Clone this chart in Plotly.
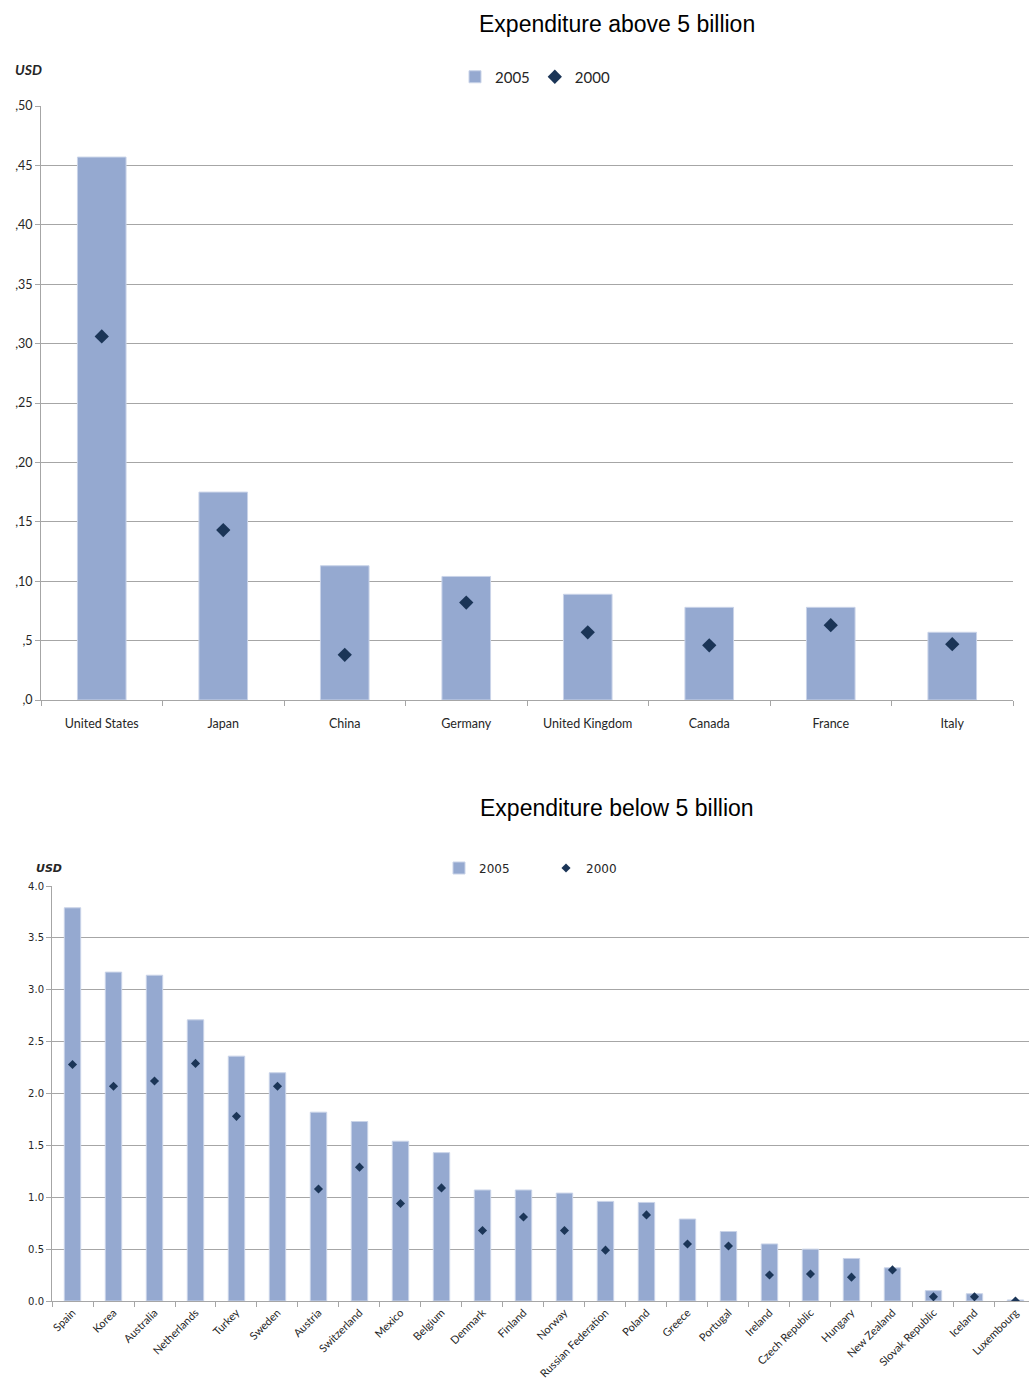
import plotly.graph_objects as go

# ---- Data: countries with expenditure above 5 billion USD ----
big_countries = ["United States", "Japan", "China", "Germany",
                 "United Kingdom", "Canada", "France", "Italy"]
big_2005 = [45.7, 17.5, 11.3, 10.4, 8.9, 7.8, 7.8, 5.7]
big_2000 = [30.6, 14.3, 3.8, 8.2, 5.7, 4.6, 6.3, 4.7]
big_ticks = [0, 5, 10, 15, 20, 25, 30, 35, 40, 45, 50]
big_ticktext = [",0", ",5", ",10", ",15", ",20", ",25", ",30", ",35", ",40", ",45", ",50"]

# ---- Data: countries with expenditure below 5 billion USD ----
small_countries = ["Spain", "Korea", "Australia", "Netherlands", "Turkey", "Sweden",
                   "Austria", "Switzerland", "Mexico", "Belgium", "Denmark", "Finland",
                   "Norway", "Russian Federation", "Poland", "Greece", "Portugal",
                   "Ireland", "Czech Republic", "Hungary", "New Zealand",
                   "Slovak Republic", "Iceland", "Luxembourg"]
small_2005 = [3.79, 3.17, 3.14, 2.71, 2.36, 2.20, 1.82, 1.73, 1.54, 1.43, 1.07, 1.07,
              1.04, 0.96, 0.95, 0.79, 0.67, 0.55, 0.50, 0.41, 0.32, 0.10, 0.07, 0.01]
small_2000 = [2.28, 2.07, 2.12, 2.29, 1.78, 2.07, 1.08, 1.29, 0.94, 1.09, 0.68, 0.81,
              0.68, 0.49, 0.83, 0.55, 0.53, 0.25, 0.26, 0.23, 0.30, 0.04, 0.04, 0.0]
small_ticks = [0, 0.5, 1.0, 1.5, 2.0, 2.5, 3.0, 3.5, 4.0]

BAR = "#95A9D0"
BAR_EDGE = "#C9D3E8"
DIAMOND = "#1B3557"
GRID = "#A6A6A6"
TXT = "#262626"

W, H = 1029, 1383


def px_x(p):
    return p / W


def px_y(p):
    return 1 - p / H


fig = go.Figure()

# Upper chart
fig.add_trace(go.Bar(x=big_countries, y=big_2005, name="2005", width=0.4,
                     marker=dict(color=BAR, line=dict(color=BAR_EDGE, width=1)),
                     xaxis="x", yaxis="y", legend="legend"))
fig.add_trace(go.Scatter(x=big_countries, y=big_2000, name="2000", mode="markers",
                         marker=dict(symbol="diamond", size=11, color=DIAMOND),
                         xaxis="x", yaxis="y", legend="legend"))

# Lower chart
fig.add_trace(go.Bar(x=small_countries, y=small_2005, name="2005", width=0.4,
                     marker=dict(color=BAR, line=dict(color=BAR_EDGE, width=1)),
                     xaxis="x2", yaxis="y2", legend="legend2"))
fig.add_trace(go.Scatter(x=small_countries, y=small_2000, name="2000", mode="markers",
                         marker=dict(symbol="diamond", size=7, color=DIAMOND),
                         xaxis="x2", yaxis="y2", legend="legend2"))

axis_common = dict(showline=True, linecolor=GRID, linewidth=1, ticks="outside",
                   tickcolor=GRID, ticklen=5, automargin=False)

fig.update_layout(
    width=W, height=H,
    margin=dict(l=0, r=0, t=0, b=0),
    paper_bgcolor="white", plot_bgcolor="white",
    barmode="overlay",
    xaxis=dict(domain=[px_x(41), px_x(1013)], range=[-0.5, 7.5], anchor="y",
               tickson="boundaries", showgrid=False, ticklabelstandoff=12,
               tickfont=dict(family="Lato", size=12.5, color=TXT), **axis_common),
    yaxis=dict(domain=[px_y(700), px_y(106)], range=[0, 50], anchor="x",
               tickvals=big_ticks, ticktext=big_ticktext, showgrid=True,
               gridcolor=GRID, gridwidth=1, zeroline=False,
               tickfont=dict(family="Lato", size=12.5, color=TXT), **axis_common),
    xaxis2=dict(domain=[px_x(52), 1.0], range=[-0.5, 23.33], anchor="y2",
                tickson="boundaries", showgrid=False, tickangle=-45,
                tickfont=dict(family="Lato", size=11, color=TXT), **axis_common),
    yaxis2=dict(domain=[px_y(1301), px_y(886)], range=[0, 4], anchor="x2",
                tickvals=small_ticks, tickformat=".1f", showgrid=True,
                gridcolor=GRID, gridwidth=1, zeroline=False,
                tickfont=dict(family="DejaVu Sans", size=10, color=TXT), **axis_common),
    legend=dict(orientation="h", x=px_x(455), y=px_y(77), yanchor="middle",
                xanchor="left", itemwidth=30, tracegroupgap=0,
                font=dict(family="Lato", size=15, color=TXT),
                bgcolor="rgba(0,0,0,0)"),
    legend2=dict(orientation="h", x=px_x(439), y=px_y(868), yanchor="middle",
                 xanchor="left", itemwidth=30, entrywidth=62, entrywidthmode="pixels",
                 font=dict(family="DejaVu Sans", size=12, color=TXT),
                 bgcolor="rgba(0,0,0,0)"),
    annotations=[
        dict(text="Expenditure above 5 billion", x=px_x(617), y=px_y(24),
             xref="paper", yref="paper", showarrow=False, xanchor="center",
             yanchor="middle", font=dict(family="Liberation Sans", size=23, color="black")),
        dict(text="Expenditure below 5 billion", x=px_x(617), y=px_y(808),
             xref="paper", yref="paper", showarrow=False, xanchor="center",
             yanchor="middle", font=dict(family="Liberation Sans", size=23, color="black")),
        dict(text="<b><i>USD</i></b>", x=px_x(13), y=px_y(69), xref="paper", yref="paper",
             showarrow=False, xanchor="left", yanchor="middle",
             font=dict(family="Lato", size=14, color=TXT)),
        dict(text="<b><i>USD</i></b>", x=px_x(34), y=px_y(868), xref="paper", yref="paper",
             showarrow=False, xanchor="left", yanchor="middle",
             font=dict(family="DejaVu Sans", size=11, color=TXT)),
    ],
)

fig.write_html("out.html")
